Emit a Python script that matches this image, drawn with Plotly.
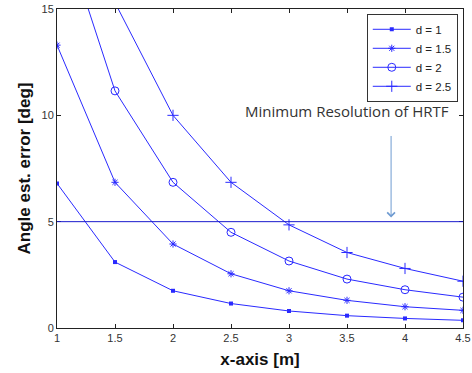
import plotly.graph_objects as go

x_vals = [1, 1.5, 2, 2.5, 3, 3.5, 4, 4.5]
err_d1 = [6.8, 3.1, 1.75, 1.15, 0.8, 0.58, 0.45, 0.36]
err_d15 = [13.3, 6.85, 3.95, 2.55, 1.75, 1.3, 1.0, 0.83]
err_d2 = [19.5, 11.15, 6.85, 4.5, 3.15, 2.3, 1.8, 1.45]
err_d25 = [28.0, 15.3, 10.0, 6.85, 4.85, 3.55, 2.8, 2.2]
series_names = ["d = 1", "d = 1.5", "d = 2", "d = 2.5"]
x_ticks = [1, 1.5, 2, 2.5, 3, 3.5, 4, 4.5]
y_ticks = [0, 5, 10, 15]
threshold = 5

line_color = "#2a2aff"
markers = [
    dict(symbol="square", size=4),
    dict(symbol="asterisk-open", size=6, line=dict(width=1, color=line_color)),
    dict(symbol="circle-open", size=8, line=dict(width=1, color=line_color)),
    dict(symbol="cross-thin-open", size=8, line=dict(width=1, color=line_color)),
]

fig = go.Figure()
for name, ys, mk in zip(series_names, [err_d1, err_d15, err_d2, err_d25], markers):
    fig.add_trace(go.Scatter(
        x=x_vals, y=ys, name=name, mode="lines+markers",
        line=dict(color=line_color, width=1),
        marker=dict(color=line_color, **mk),
        cliponaxis=True,
    ))

fig.add_shape(type="line", xref="paper", yref="y", x0=0, x1=1, y0=threshold, y1=threshold,
              line=dict(color="#1a1acc", width=1))

fig.add_annotation(x=3.5, y=10.2, xref="x", yref="y", text="Minimum Resolution of HRTF",
                   showarrow=False, font=dict(family="Open Sans", size=15, color="#333333"))
fig.add_annotation(x=3.88, y=5.2, xref="x", yref="y", ax=3.88, ay=9.1, axref="x", ayref="y",
                   text="", showarrow=True, arrowhead=4, arrowsize=1.5, arrowwidth=1,
                   arrowcolor="#6f9bd1")

axis_common = dict(showline=True, linecolor="#222222", linewidth=1, mirror="ticks",
                   ticks="inside", ticklen=4, tickcolor="#222222", showgrid=False, zeroline=False,
                   automargin=False, ticklabeloverflow="allow",
                   tickfont=dict(family="Arial", size=11, color="#333333"))

fig.update_xaxes(range=[1, 4.5], tickvals=x_ticks, ticktext=[str(v) for v in x_ticks],
                 title=dict(text="<b>x-axis [m]</b>", font=dict(family="Arial", size=17, color="#111111"),
                            standoff=9),
                 **axis_common)
fig.update_yaxes(range=[0, 15], tickvals=y_ticks,
                 title=dict(text="<b>Angle est. error [deg]</b>", font=dict(family="Arial", size=17, color="#111111"),
                            standoff=6),
                 **axis_common)

fig.update_layout(
    width=472, height=373,
    margin=dict(l=57, r=9, t=9, b=45),
    plot_bgcolor="white", paper_bgcolor="white",
    legend=dict(x=0.763, y=0.985, xanchor="left", yanchor="top",
                bordercolor="#333333", borderwidth=1, bgcolor="white",
                font=dict(family="Arial", size=11.5, color="#222222"),
                itemwidth=38, tracegroupgap=0),
    showlegend=True,
)

fig.write_html("out.html", config={"displayModeBar": False},
               post_script="document.body.style.margin='0';")
